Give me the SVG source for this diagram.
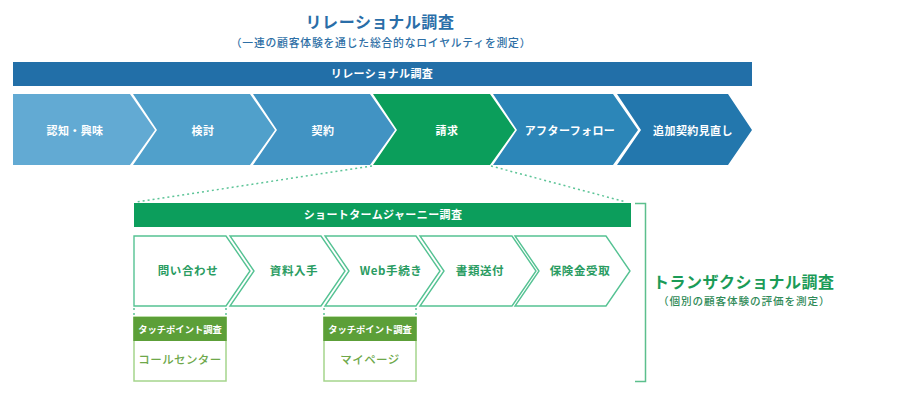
<svg xmlns="http://www.w3.org/2000/svg" width="900" height="401" viewBox="0 0 900 401">
<style>
text{font-family:"Noto Sans CJK JP","Noto Sans",sans-serif;font-weight:700}
.w{fill:#fff;font-size:11px;text-anchor:middle;letter-spacing:0.4px}
.lc{fill:#fff;stroke:#55c293;stroke-width:1.4}
.lt{fill:#2a9c62;font-size:11.5px;text-anchor:middle;letter-spacing:0.6px}
.dot{stroke:#5cc497;stroke-width:1.5;stroke-dasharray:2 3;fill:none}
.tph{fill:#5c9f38}
.tpb{fill:#fff;stroke:#a5d58c;stroke-width:1.5}
.tpht{fill:#fff;font-size:9.3px;text-anchor:middle}
.tpt{fill:#6ea84a;font-size:11.5px;text-anchor:middle;font-weight:500;letter-spacing:0.4px}
</style>
<g id="title">
<text x="380" y="28" style="fill:#2a6ea8;font-size:16px;text-anchor:middle;letter-spacing:0.6px">リレーショナル調査</text>
<text x="381" y="47" style="fill:#2e6fa6;font-size:10.8px;text-anchor:middle;letter-spacing:0.8px;font-weight:500">（一連の顧客体験を通じた総合的なロイヤルティを測定）</text>
</g>
<g id="relational-bar">
<rect x="13" y="62" width="739" height="24" fill="#226fa8"/>
<text class="w" x="382" y="78">リレーショナル調査</text>
</g>
<g id="stage-1">
<polygon points="13,94 130,94 155,130 130,165 13,165" fill="#62aad3"/>
<text class="w" x="75" y="135">認知・興味</text>
</g>
<g id="stage-2">
<polygon points="133,94 250,94 275,130 250,165 133,165 157,130" fill="#50a0cb"/>
<text class="w" x="203" y="135">検討</text>
</g>
<g id="stage-3">
<polygon points="253,94 370,94 395,130 370,165 253,165 277,130" fill="#4193c3"/>
<text class="w" x="323" y="135">契約</text>
</g>
<g id="stage-4">
<polygon points="373,94 490,94 515,130 490,165 373,165 397,130" fill="#0b9e5b"/>
<text class="w" x="447" y="135">請求</text>
</g>
<g id="stage-5">
<polygon points="493,94 613,94 638,130 613,165 493,165 517,130" fill="#2c86b8"/>
<text class="w" x="570" y="135">アフターフォロー</text>
</g>
<g id="stage-6">
<polygon points="617,94 728,94 752,130 728,165 617,165 641,130" fill="#2377ad"/>
<text class="w" x="693" y="135">追加契約見直し</text>
</g>
<g id="connectors">
<line class="dot" x1="372" y1="166" x2="136" y2="202"/>
<line class="dot" x1="491" y1="166" x2="626" y2="202"/>
<line class="dot" x1="134" y1="308" x2="134" y2="317"/>
<line class="dot" x1="226" y1="308" x2="226" y2="317"/>
<line class="dot" x1="324" y1="308" x2="324" y2="317"/>
<line class="dot" x1="416" y1="308" x2="416" y2="317"/>
</g>
<g id="short-term-bar">
<rect x="134" y="203" width="497" height="24" fill="#0c9e5c"/>
<text class="w" x="383" y="219">ショートタームジャーニー調査</text>
</g>
<g id="step-1">
<polygon class="lc" points="134,236 226,236 250,271 226,306 134,306"/>
<text class="lt" x="188" y="275">問い合わせ</text>
</g>
<g id="step-2">
<polygon class="lc" points="230,236 321,236 345,271 321,306 230,306 254,271"/>
<text class="lt" x="294" y="275">資料入手</text>
</g>
<g id="step-3">
<polygon class="lc" points="325,236 416,236 440,271 416,306 325,306 349,271"/>
<text class="lt" x="391" y="275">Web手続き</text>
</g>
<g id="step-4">
<polygon class="lc" points="420,236 512,236 536,271 512,306 420,306 444,271"/>
<text class="lt" x="480" y="275">書類送付</text>
</g>
<g id="step-5">
<polygon class="lc" points="515,236 606,236 630,271 606,306 515,306 539,271"/>
<text class="lt" x="580" y="275">保険金受取</text>
</g>
<g id="touchpoint-1">
<rect class="tpb" x="134" y="317" width="92" height="64"/>
<rect class="tph" x="133.3" y="317" width="93.4" height="24"/>
<text class="tpht" x="180" y="333">タッチポイント調査</text>
<text class="tpt" x="180" y="364">コールセンター</text>
</g>
<g id="touchpoint-2">
<rect class="tpb" x="324" y="317" width="92" height="64"/>
<rect class="tph" x="323.3" y="317" width="93.4" height="24"/>
<text class="tpht" x="370" y="333">タッチポイント調査</text>
<text class="tpt" x="370" y="364">マイページ</text>
</g>
<g id="transactional">
<polyline points="635,203.5 645.5,203.5 645.5,381.5 635,381.5" fill="none" stroke="#5cbf8d" stroke-width="1.5"/>
<text x="653" y="288" style="fill:#1a9b57;font-size:16px;letter-spacing:0.5px">トランザクショナル調査</text>
<text x="658" y="305" style="fill:#2f8a57;font-size:10.6px;letter-spacing:0.9px;font-weight:500">（個別の顧客体験の評価を測定）</text>
</g>
</svg>
